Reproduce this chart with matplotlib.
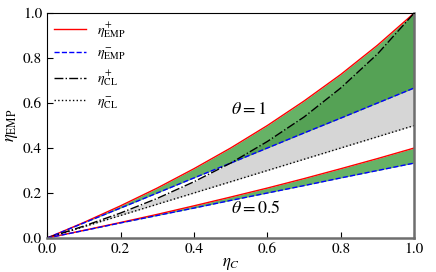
import matplotlib

matplotlib.use("Agg")
import matplotlib.pyplot as plt


# valores (eta_C de 0 a 1)
eta_c = [0.0, 0.1, 0.2, 0.3, 0.4, 0.5, 0.6, 0.7, 0.8, 0.9, 1.0]

emp_mais_t1 = [0.0, 0.069, 0.143, 0.222, 0.308, 0.400, 0.500, 0.609, 0.727, 0.857, 1.0]
emp_menos_t1 = [0.0, 0.067, 0.133, 0.200, 0.267, 0.333, 0.400, 0.467, 0.533, 0.600, 0.667]

emp_mais_t05 = [0.0, 0.034, 0.069, 0.105, 0.143, 0.182, 0.222, 0.264, 0.308, 0.353, 0.400]
emp_menos_t05 = [0.0, 0.033, 0.067, 0.100, 0.133, 0.167, 0.200, 0.233, 0.267, 0.300, 0.333]

cl_mais = [0.0, 0.053, 0.111, 0.176, 0.250, 0.333, 0.429, 0.538, 0.667, 0.818, 1.0]
cl_menos = [0.0, 0.05, 0.10, 0.15, 0.20, 0.25, 0.30, 0.35, 0.40, 0.45, 0.50]

ticks = [0.0, 0.2, 0.4, 0.6, 0.8, 1.0]


plt.rcParams["font.family"] = "STIXGeneral"
plt.rcParams["mathtext.fontset"] = "stix"

fig = plt.figure(figsize=(4.36, 2.72), dpi=100)
ax = fig.add_axes([0.108, 0.125, 0.842, 0.827])

ax.fill_between(eta_c, cl_menos, cl_mais, color="#d6d6d6", linewidth=0)
ax.fill_between(eta_c, emp_menos_t1, emp_mais_t1, color="green", alpha=0.6, linewidth=0)
ax.fill_between(eta_c, emp_menos_t05, emp_mais_t05, color="green", alpha=0.6, linewidth=0)

ax.plot(eta_c, emp_mais_t1, color="red", linewidth=1.0, label=r"$\eta_{\rm EMP}^{+}$")
ax.plot(eta_c, emp_menos_t1, color="blue", linestyle="--", linewidth=1.0,
        label=r"$\eta_{\rm EMP}^{-}$")
ax.plot(eta_c, cl_mais, color="black", linestyle="-.", linewidth=1.0,
        label=r"$\eta_{\rm CL}^{+}$")
ax.plot(eta_c, cl_menos, color="black", linestyle=":", linewidth=1.0,
        label=r"$\eta_{\rm CL}^{-}$")
ax.plot(eta_c, emp_mais_t05, color="red", linewidth=1.0)
ax.plot(eta_c, emp_menos_t05, color="blue", linestyle="--", linewidth=1.0)

ax.text(0.5, 0.57, r"$\theta=1$", fontsize=13, va="center")
ax.text(0.5, 0.13, r"$\theta=0.5$", fontsize=13, va="center")

ax.set_xlim(0, 1)
ax.set_ylim(0, 1)
ax.set_xticks(ticks)
ax.set_yticks(ticks)
ax.tick_params(direction="in", length=4, labelsize=11)
ax.set_xlabel(r"$\eta_C$", fontsize=12, labelpad=0)
ax.set_ylabel(r"$\eta_{\rm EMP}$", fontsize=12, labelpad=2)

ax.spines["top"].set_color("black")
ax.spines["left"].set_color("black")
ax.spines["bottom"].set_color("#6e6e6e")
ax.spines["right"].set_color("#6e6e6e")
for lado in ["bottom", "right"]:
    ax.spines[lado].set_linewidth(1.8)

ax.legend(loc="upper left", frameon=False, fontsize=10, handlelength=2.3,
          labelspacing=0.45, borderaxespad=0.1)

fig.savefig("out.png", dpi=100)
